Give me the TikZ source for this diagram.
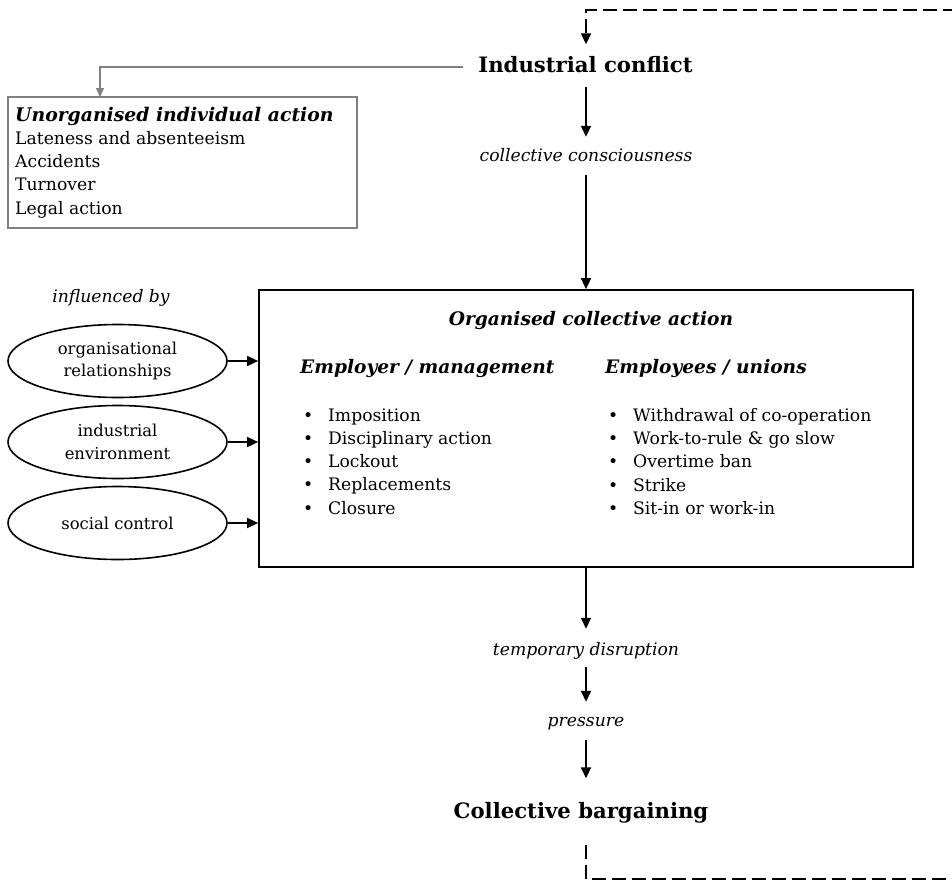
\documentclass[tikz,border=0pt]{standalone}
\usepackage{fontspec}
\setmainfont{DejaVu Serif}
\usetikzlibrary{arrows.meta,shapes.geometric}
\definecolor{framegray}{HTML}{808080}

\begin{document}
\begin{tikzpicture}[x=1pt,y=-1pt,
  body/.style={inner sep=0pt, font=\fontsize{17.2}{23.2}\selectfont},
  lab/.style={inner sep=0pt, font=\fontsize{17.2}{23.2}\selectfont\itshape, text height=13pt, text depth=4pt},
  headline/.style={inner sep=0pt, font=\fontsize{21.2}{24}\selectfont\bfseries, text height=16pt, text depth=5pt},
  subhead/.style={inner sep=0pt, font=\fontsize{18.6}{22}\selectfont\bfseries\itshape},
  listing/.style={body, align=left},
  factor/.style={ellipse, draw, line width=1.6pt, minimum width=219pt, minimum height=73pt,
                 inner sep=0pt, align=center, font=\fontsize{16.4}{22.5}\selectfont},
  arr/.style={-{Triangle[length=11pt,width=10pt]}, line width=1.6pt},
  grayarr/.style={-{Triangle[length=9pt,width=8pt]}, line width=1.5pt, draw=framegray},
  loop/.style={line width=1.7pt, dash pattern=on 14pt off 6pt, -{Triangle[length=11pt,width=10pt]}},
]
\useasboundingbox (0,0) rectangle (952,881);
\begin{scope}
\clip (0,0) rectangle (952,881);

% top label and the individual-action branch
\node[headline] (ic) at (585.5,67) {Industrial conflict};
\node[draw=framegray, line width=1.5pt, minimum width=349pt, minimum height=131pt, inner sep=0pt]
  (unorg) at (182.5,162.5) {};
\node[listing, anchor=west] (unorglist) at (15,162.5)
  {{\fontsize{18.8}{23.2}\selectfont\bfseries\itshape Unorganised individual action}\\Lateness and absenteeism\\Accidents\\Turnover\\Legal action};
\coordinate (unorgin) at (100,97);
\draw[grayarr, shorten <=15pt] (ic.west) -| (unorgin);

% main chain
\node[lab] (cc) at (586,157) {collective consciousness};
\node[draw, line width=1.7pt, minimum width=654pt, minimum height=277pt, inner sep=0pt]
  (main) at (586,428.5) {};
\node[lab] (td) at (586,651) {temporary disruption};
\node[lab] (pr) at (586,722) {pressure};
\node[headline] (cb) at (581,813) {Collective bargaining};

\draw[arr, shorten <=9pt, shorten >=11.5pt] (ic.south -| cc.north) -- (cc.north);
\draw[arr, shorten <=9pt] (cc.south) -- (cc.south |- main.north);
\draw[arr, shorten >=13.5pt] (td.north |- main.south) -- (td.north);
\draw[arr, shorten <=7.5pt, shorten >=11.5pt] (td.south) -- (pr.north);
\draw[arr, shorten <=9.5pt, shorten >=24pt] (pr.south) -- (pr.south |- cb.north);

% feedback loop from bargaining back to conflict
\coordinate (loopA) at (586,879);
\coordinate (loopB) at (970,879);
\coordinate (loopC) at (970,10);
\coordinate (loopD) at (586,10);
\draw[loop, shorten <=21pt, shorten >=12pt] (cb.south -| loopA) -- (loopA) -- (loopB) -- (loopC) -- (loopD) -- (loopD |- ic.north);

% contents of the collective action box
\node[subhead] (oca) at (591,320) {Organised collective action};
\node[subhead, anchor=west] (emp) at (300,368) {Employer / management};
\node[subhead, anchor=west] (eu) at (605,368) {Employees / unions};
\node[listing, anchor=west] (emplist) at (303,461.5)
  {\makebox[25pt][l]{•}Imposition\\\makebox[25pt][l]{•}Disciplinary action\\\makebox[25pt][l]{•}Lockout\\\makebox[25pt][l]{•}Replacements\\\makebox[25pt][l]{•}Closure};
\node[listing, anchor=west] (eulist) at (608,461.5)
  {\makebox[25pt][l]{•}Withdrawal of co-operation\\\makebox[25pt][l]{•}Work-to-rule \& go slow\\\makebox[25pt][l]{•}Overtime ban\\\makebox[25pt][l]{•}Strike\\\makebox[25pt][l]{•}Sit-in or work-in};

% influencing factors
\node[lab] (inf) at (111,298) {influenced by};
\node[factor] (f1) at (117.5,361) {organisational\\relationships};
\node[factor] (f2) at (117.5,442) {industrial\\environment};
\node[factor] (f3) at (117.5,523) {social control};
\foreach \f in {f1,f2,f3}
  \draw[arr] (\f.east) -- (\f.east -| main.west);

\end{scope}
\end{tikzpicture}
\end{document}
